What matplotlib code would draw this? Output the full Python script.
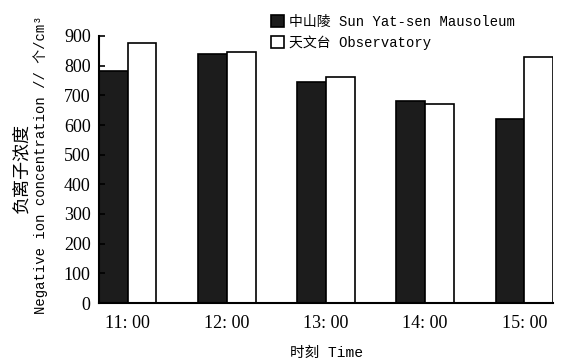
import numpy as np
import matplotlib.pyplot as plt

times = ["11: 00", "12: 00", "13: 00", "14: 00", "15: 00"]
mausoleum = [782, 841, 745, 680, 620]
observatory = [878, 846, 763, 672, 828]
yticks = [0, 100, 200, 300, 400, 500, 600, 700, 800, 900]

txt_font = ['Liberation Mono', 'Noto Sans CJK SC', 'DejaVu Sans']
cjk_font = ['Noto Sans CJK SC', 'DejaVu Sans']
num_font = ['Liberation Serif', 'DejaVu Serif']

fig = plt.figure(figsize=(5.63, 3.63), dpi=100)
ax = fig.add_axes([99/563, 1-303/363, 454/563, (303-36)/363])

x = np.arange(len(times))
w = 0.29
ax.bar(x - w/2, mausoleum, w, color='#1c1c1c', edgecolor='black', linewidth=1.2,
       label='中山陵 Sun Yat-sen Mausoleum')
ax.bar(x + w/2, observatory, w, color='white', edgecolor='black', linewidth=1.2,
       label='天文台 Observatory')

ax.set_xlim(-w, len(times) - 1 + w)
ax.set_ylim(0, 900)
ax.set_yticks(yticks)
ax.set_xticks(x)
ax.set_xticklabels(times, family=num_font, fontsize=13)
ax.set_yticklabels([str(v) for v in yticks], family=num_font, fontsize=13)
ax.tick_params(axis='y', direction='in', length=4, width=1.2, pad=6)
ax.tick_params(axis='x', length=0, pad=9)

for s in ['top', 'right']:
    ax.spines[s].set_visible(False)
ax.spines['left'].set_linewidth(1.5)
ax.spines['bottom'].set_linewidth(1.5)

ax.set_xlabel('时刻 Time', family=txt_font, fontsize=10.5, labelpad=10)

# y label: two lines drawn separately so the Chinese line can be larger
fig.text(21/563, 1 - 168/363, '负离子浓度', family=cjk_font, fontsize=13,
         rotation=90, ha='center', va='center')
fig.text(41/563, 1 - 165/363, 'Negative ion concentration // 个/cm³', family=txt_font,
         fontsize=10, rotation=90, ha='center', va='center')

fig.legend(loc='upper left', bbox_to_anchor=(265/563, 1 - 9/363), frameon=False,
           prop={'family': txt_font, 'size': 10}, handlelength=0.95, handleheight=0.95,
           handletextpad=0.4, labelspacing=0.5, borderaxespad=0)

fig.savefig('out.png', dpi=100)
